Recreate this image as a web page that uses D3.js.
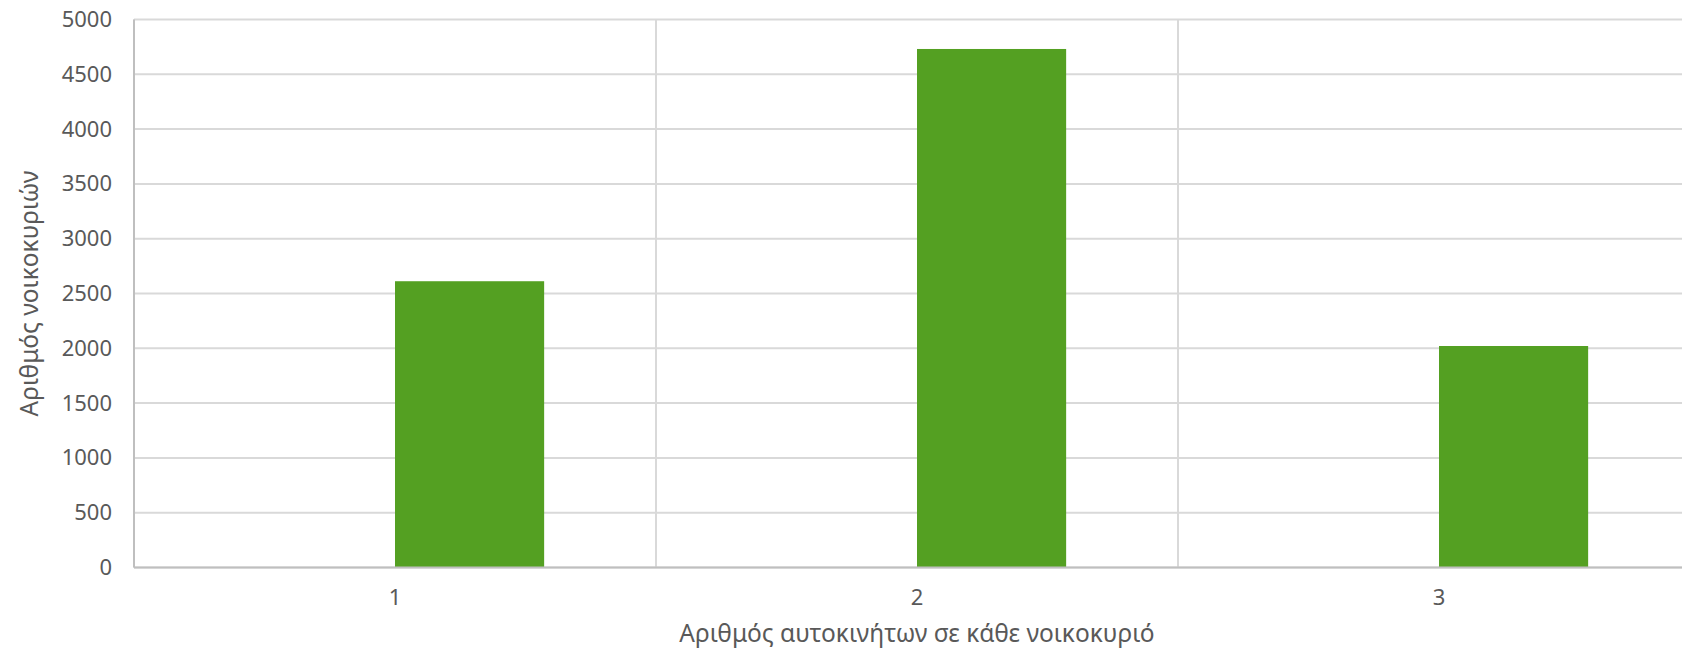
<!DOCTYPE html>
<html>
<head>
<meta charset="utf-8">
<script src="https://cdn.jsdelivr.net/npm/d3@7"></script>
<style>
  body { margin: 0; background: #fff; }
  text { font-family: "Noto Sans", "DejaVu Sans", sans-serif; fill: #595959; }
</style>
</head>
<body>
<script>
// data
var categories = ["1", "2", "3"];
var households = [2612, 4731, 2021];
var yTicks = [0, 500, 1000, 1500, 2000, 2500, 3000, 3500, 4000, 4500, 5000];
var xTitle = "Αριθμός αυτοκινήτων σε κάθε νοικοκυριό";
var yTitle = "Αριθμός νοικοκυριών";

function draw() {
    var width = 1682, height = 653;
    var margin = {top: 19.5, left: 134};
    var plotW = 1566, plotH = 548;

    var svg = d3.select("body")
        .append("svg")
        .attr("width", width)
        .attr("height", height);

    var g = svg.append("g")
        .attr("transform", "translate(" + margin.left + "," + margin.top + ")");

    var x = d3.scaleBand().domain(categories).range([0, plotW]);
    // two slots per category, the first one empty (gap width 150%)
    var xInner = d3.scaleBand().domain([0, 1]).range([0, x.bandwidth()]).paddingOuter(0.75);
    var y = d3.scaleLinear().domain([0, 5000]).range([plotH, 0]);

    // horizontal grid
    g.append("g")
        .selectAll("line")
        .data(yTicks)
        .enter().append("line")
        .attr("x1", 0).attr("x2", plotW)
        .attr("y1", function (d) { return y(d); })
        .attr("y2", function (d) { return y(d); })
        .style("stroke", "#d9d9d9")
        .style("stroke-width", 2);

    // vertical grid at category borders
    var borders = categories.map(function (c) { return x(c); }).concat([plotW]);
    g.append("g")
        .selectAll("line")
        .data(borders)
        .enter().append("line")
        .attr("x1", function (d) { return d; })
        .attr("x2", function (d) { return d; })
        .attr("y1", 0).attr("y2", plotH)
        .style("stroke", "#d9d9d9")
        .style("stroke-width", 2);

    // bars
    g.append("g")
        .selectAll("rect")
        .data(households)
        .enter().append("rect")
        .attr("x", function (d, i) { return x(categories[i]) + xInner(1); })
        .attr("y", function (d) { return y(d); })
        .attr("width", xInner.bandwidth())
        .attr("height", function (d) { return plotH - y(d); })
        .style("fill", "#54a022");

    // axis lines
    g.append("line")
        .attr("x1", 0).attr("x2", 0).attr("y1", 0).attr("y2", plotH)
        .style("stroke", "#bfbfbf").style("stroke-width", 2);
    g.append("line")
        .attr("x1", 0).attr("x2", plotW).attr("y1", plotH).attr("y2", plotH)
        .style("stroke", "#bfbfbf").style("stroke-width", 2);

    // y axis labels
    var yAxis = g.append("g")
        .call(d3.axisLeft(y).tickValues(yTicks).tickFormat(d3.format("d")).tickSize(0).tickPadding(22));
    yAxis.select(".domain").remove();
    yAxis.selectAll("text")
        .style("font-size", "22px")
        .attr("font-family", null);

    // x axis labels, centred on the category middle
    var xAxis = g.append("g")
        .attr("transform", "translate(0," + plotH + ")")
        .call(d3.axisBottom(x).tickSize(0));
    xAxis.select(".domain").remove();
    xAxis.selectAll("text")
        .attr("dy", null)
        .attr("y", 37.5)
        .style("font-size", "22px")
        .attr("font-family", null);

    // titles
    svg.append("text")
        .attr("x", margin.left + plotW / 2)
        .attr("y", 642)
        .attr("text-anchor", "middle")
        .style("font-size", "24.5px")
        .text(xTitle);

    svg.append("text")
        .attr("transform", "translate(38," + (margin.top + plotH / 2) + ") rotate(-90)")
        .attr("text-anchor", "middle")
        .style("font-size", "24.5px")
        .text(yTitle);
}

draw();
</script>
</body>
</html>
